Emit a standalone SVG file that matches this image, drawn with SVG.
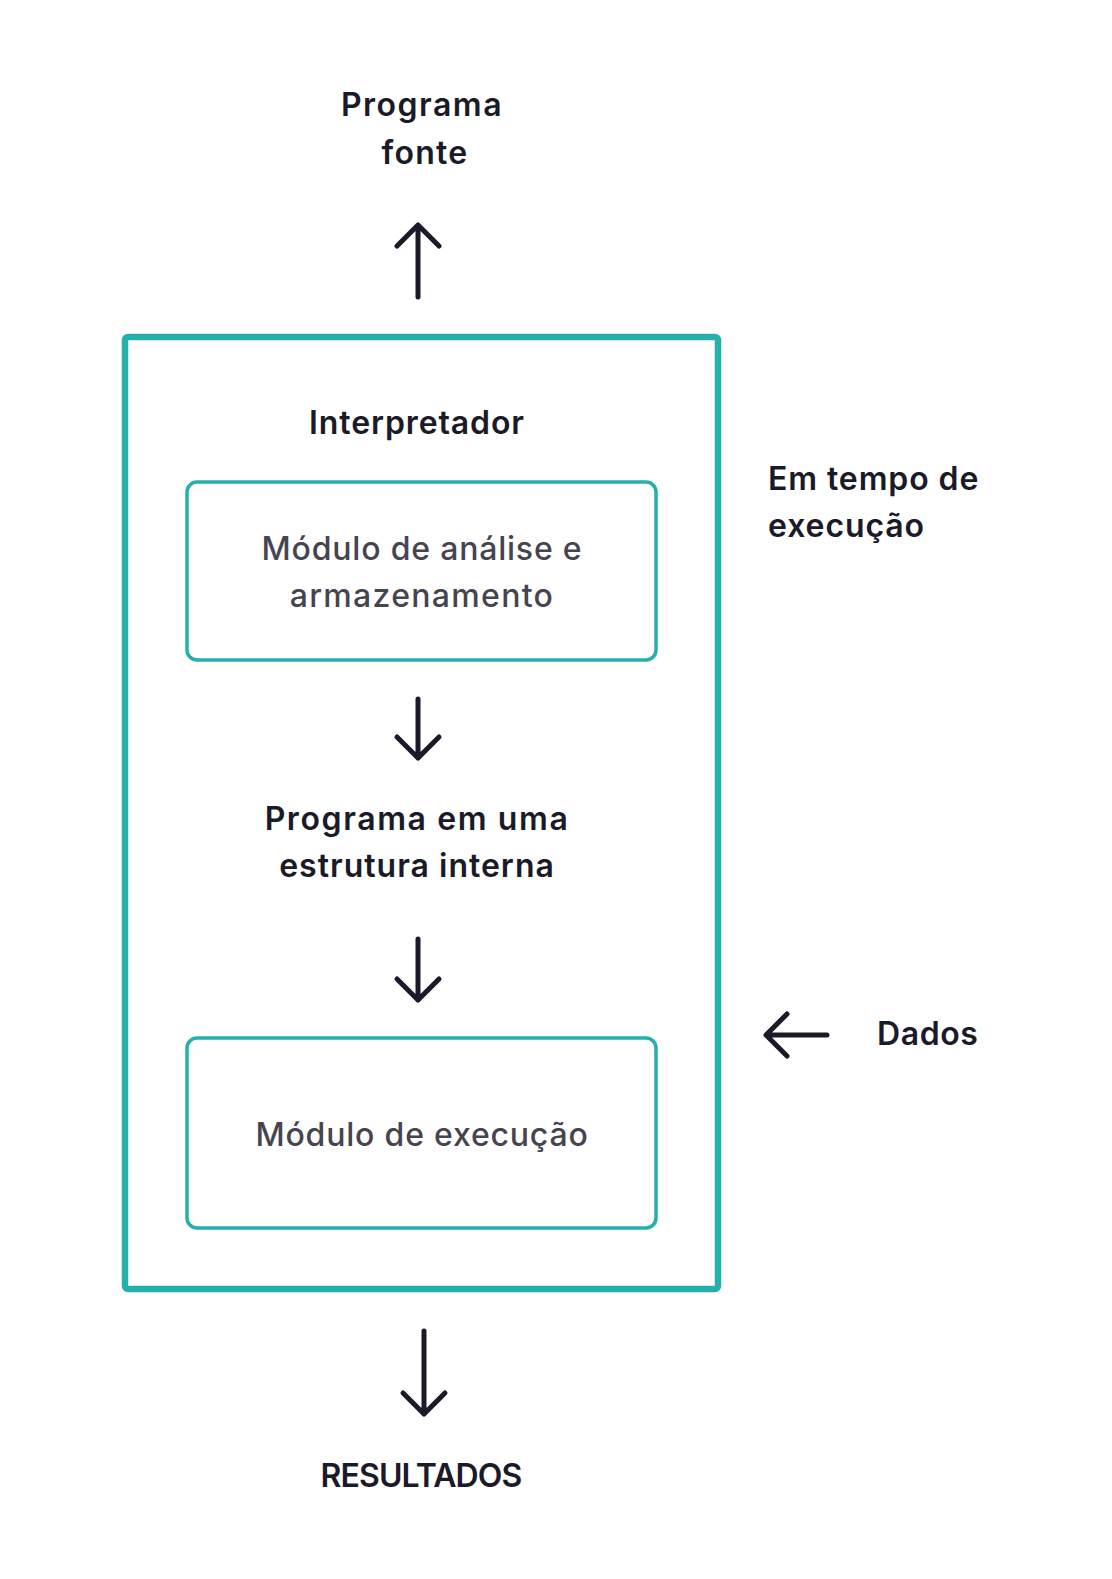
<svg xmlns="http://www.w3.org/2000/svg" width="1112" height="1579" viewBox="0 0 1112 1579">
<style>
.t{font-family:Inter,"Noto Sans",sans-serif;font-weight:600;font-size:32px;letter-spacing:0.9px;fill:#1b1a28;text-anchor:middle}
.g{font-family:Inter,"Noto Sans",sans-serif;font-weight:500;font-size:32px;letter-spacing:0.8px;fill:#46444f;text-anchor:middle}
.box{fill:none;stroke:#26b0ac;stroke-width:3.5}
.arr{fill:none;stroke:#1b1a28;stroke-width:5;stroke-linecap:round;stroke-linejoin:round}
</style>
<rect width="1112" height="1579" fill="#ffffff"/>
<g id="programa-fonte">
<text class="t" x="422" y="116" style="letter-spacing:1.5px">Programa</text>
<text class="t" x="425" y="164" style="letter-spacing:1.3px">fonte</text>
</g>
<g id="interpretador">
<rect x="125" y="337" width="593" height="952" rx="3" fill="none" stroke="#26b0ac" stroke-width="6.5"/>
<text class="t" x="417" y="434">Interpretador</text>
</g>
<g id="modulo-analise">
<rect class="box" x="187" y="482" width="469" height="178" rx="10"/>
<text class="g" x="422" y="560">Módulo de análise e</text>
<text class="g" x="422" y="607" style="letter-spacing:1.3px">armazenamento</text>
</g>
<g id="programa-interno">
<text class="t" x="417" y="830" style="letter-spacing:1.6px">Programa em uma</text>
<text class="t" x="417" y="877" style="letter-spacing:1px">estrutura interna</text>
</g>
<g id="modulo-execucao">
<rect class="box" x="187" y="1038" width="469" height="190" rx="10"/>
<text class="g" x="422" y="1146">Módulo de execução</text>
</g>
<g id="em-tempo">
<text class="t" x="768" y="490" style="text-anchor:start">Em tempo de</text>
<text class="t" x="768" y="537" style="text-anchor:start">execução</text>
</g>
<g id="dados">
<text class="t" x="877" y="1045" style="text-anchor:start;letter-spacing:0.6px">Dados</text>
</g>
<g id="resultados">
<text class="t" x="421" y="1487" style="letter-spacing:-0.9px">RESULTADOS</text>
</g>
<g id="connectors">
<path class="arr" d="M418 297V226M397 246L418 225L439 246"/>
<path class="arr" d="M418 699V758M397 737L418 758L439 737"/>
<path class="arr" d="M418 939V1000M397 979L418 1000L439 979"/>
<path class="arr" d="M827 1035H767M787 1014L766 1035L787 1056"/>
<path class="arr" d="M424 1331V1414M403 1393L424 1414L445 1393"/>
</g>
</svg>
